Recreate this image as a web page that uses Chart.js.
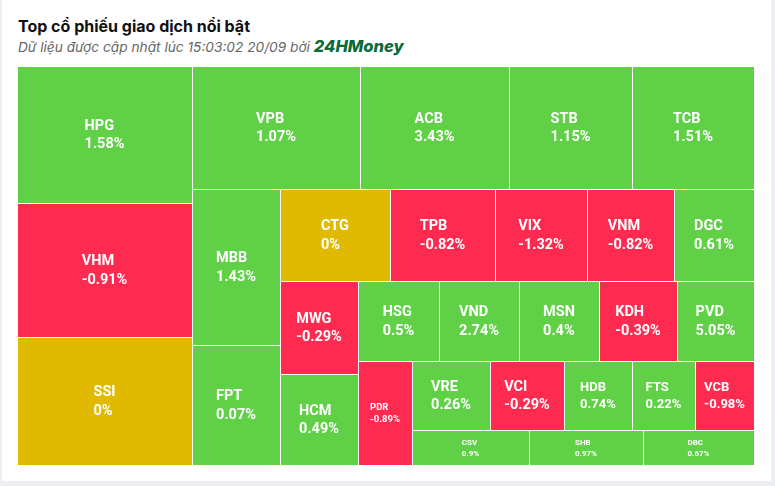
<!DOCTYPE html>
<html lang="vi">
<head>
<meta charset="utf-8">
<script src="https://cdn.jsdelivr.net/npm/chart.js@4"></script>
<style>
  html, body { margin: 0; padding: 0; }
  body { width: 775px; height: 486px; background: #eceef2; position: relative; overflow: hidden; font-family: "Inter", "Noto Sans", sans-serif; }
  #card { position: absolute; left: 2px; top: 0; width: 769px; height: 481px; background: #fff; }
  #title { position: absolute; left: 18px; top: 16px; font-size: 16px; font-weight: 700; color: #111; white-space: nowrap; }
  #subtitle { position: absolute; left: 18px; top: 36px; font-size: 13.7px; font-style: italic; color: #666; white-space: nowrap; }
  #subtitle b { color: #0b6a3a; font-size: 16.5px; font-weight: 800; }
  #wrap { position: absolute; left: 17px; top: 66px; width: 737px; height: 399px; }
</style>
</head>
<body>
<div id="card"></div>
<div id="title">Top cổ phiếu giao dịch nổi bật</div>
<div id="subtitle">Dữ liệu được cập nhật lúc 15:03:02 20/09 bởi <b>24HMoney</b></div>
<div id="wrap"><canvas id="treemap"></canvas></div>
<script>
// giá trị giao dịch (tỷ đồng, ước lượng) và % thay đổi giá
const tickers = ["HPG", "VHM", "SSI", "VPB", "ACB", "STB", "TCB", "MBB", "FPT", "CTG",
  "TPB", "VIX", "VNM", "DGC", "MWG", "HCM", "HSG", "VND", "MSN", "KDH",
  "PVD", "PDR", "VRE", "VCI", "HDB", "FTS", "VCB", "CSV", "SHB", "DBC"];
const tradeValues = [1199, 1173, 1120, 1033, 916, 756, 750, 686, 528, 506,
  483, 423, 400, 368, 363, 355, 324, 320, 320, 312,
  308, 281, 270, 259, 235, 217, 205, 204, 200, 194];
const changes = [1.58, -0.91, 0, 1.07, 3.43, 1.15, 1.51, 1.43, 0.07, 0,
  -0.82, -1.32, -0.82, 0.61, -0.29, 0.49, 0.5, 2.74, 0.4, -0.39,
  5.05, -0.89, 0.26, -0.29, 0.74, 0.22, -0.98, 0.9, 0.97, 0.67];

const UP = "#60d147";
const DOWN = "#ff2a50";
const FLAT = "#e0ba00";

function colorFor(c) {
  if (c > 0) return UP;
  if (c < 0) return DOWN;
  return FLAT;
}

// squarified layout, strips alternate between column and row
function layoutTreemap(values, W, H) {
  const total = values.reduce((a, b) => a + b, 0);
  const areas = values.map((v) => (v / total) * W * H);
  const rects = [];
  const ratio = (a, b) => Math.max(a / b, b / a);
  let rx = 0, ry = 0, rw = W, rh = H, dir = 0, i = 0;
  while (i < areas.length) {
    const strip = [i];
    let sum = areas[i];
    i++;
    while (i < areas.length) {
      const side = dir === 0 ? rh : rw;
      const last = areas[strip[strip.length - 1]];
      const oldT = sum / side;
      const newT = (sum + areas[i]) / side;
      if (ratio(newT, last / newT) > ratio(oldT, last / oldT)) break;
      strip.push(i);
      sum += areas[i];
      i++;
    }
    const side = dir === 0 ? rh : rw;
    const t = sum / side;
    let off = 0;
    strip.forEach((k) => {
      const len = areas[k] / t;
      if (dir === 0) rects[k] = { x: rx, y: ry + off, w: t, h: len };
      else rects[k] = { x: rx + off, y: ry, w: len, h: t };
      off += len;
    });
    if (dir === 0) { rx += t; rw -= t; } else { ry += t; rh -= t; }
    dir = 1 - dir;
  }
  return rects;
}

function labelSize(w, h) {
  if (h < 45) return 8;
  if (w < 57) return 9.5;
  if (w < 70) return 13;
  return 14.5;
}

const treemapPlugin = {
  id: "treemapCells",
  afterDatasetsDraw(chart) {
    const ctx = chart.ctx;
    const area = chart.chartArea;
    const xs = chart.scales.x;
    const ys = chart.scales.y;
    const aspect = (area.right - area.left) / (area.bottom - area.top);
    const rects = layoutTreemap(tradeValues, aspect, 1);
    ctx.save();
    rects.forEach((r, k) => {
      const x0 = Math.round(xs.getPixelForValue(r.x / aspect));
      const x1 = Math.round(xs.getPixelForValue((r.x + r.w) / aspect));
      const y0 = Math.round(ys.getPixelForValue(r.y));
      const y1 = Math.round(ys.getPixelForValue(r.y + r.h));
      ctx.fillStyle = colorFor(changes[k]);
      ctx.fillRect(x0, y0, x1 - x0, y1 - y0);
      ctx.strokeStyle = "#ffffff";
      ctx.lineWidth = 1;
      ctx.strokeRect(x0 + 0.5, y0 + 0.5, x1 - x0, y1 - y0);

      const size = labelSize(x1 - x0, y1 - y0);
      ctx.font = `700 ${size}px Roboto, "Noto Sans", sans-serif`;
      const lines = [tickers[k], changes[k] + "%"];
      const bw = Math.max(...lines.map((s) => ctx.measureText(s).width));
      const lh = size * 1.27;
      const left = (x0 + x1) / 2 - bw / 2;
      const top = (y0 + y1) / 2 - lh + 1;
      ctx.fillStyle = "#ffffff";
      ctx.textAlign = "left";
      ctx.textBaseline = "middle";
      lines.forEach((s, j) => ctx.fillText(s, left, top + lh / 2 + j * lh));
    });
    ctx.restore();
  },
};

new Chart(document.getElementById("treemap"), {
  type: "scatter",
  data: { datasets: [{ data: [] }] },
  options: {
    responsive: true,
    maintainAspectRatio: false,
    animation: false,
    layout: { padding: 0 },
    plugins: { legend: { display: false }, tooltip: { enabled: false } },
    scales: {
      x: { display: false, min: 0, max: 1 },
      y: { display: false, min: 0, max: 1, reverse: true },
    },
  },
  plugins: [treemapPlugin],
});
</script>
</body>
</html>
